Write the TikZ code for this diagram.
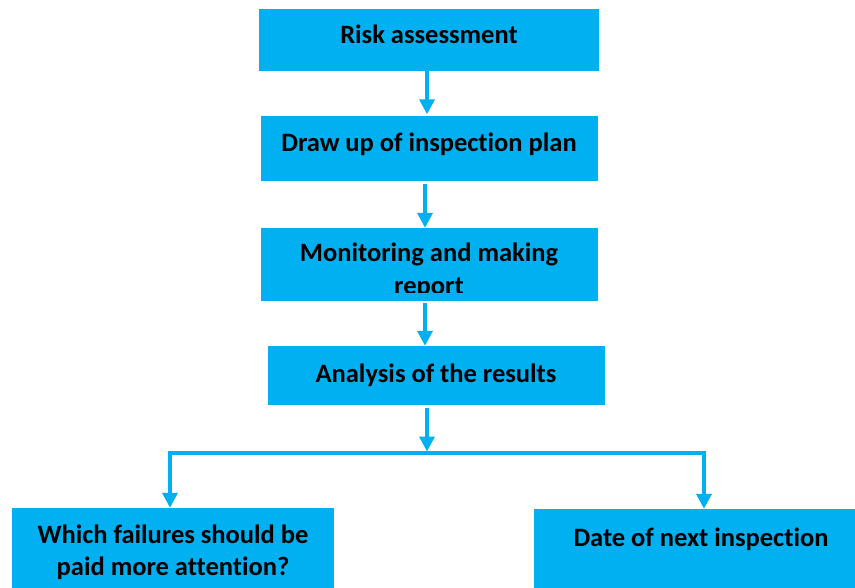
\documentclass[tikz,border=0pt]{standalone}
\usepackage{fontspec}
\setmainfont{Carlito}[Ligatures={NoCommon}]
\usetikzlibrary{arrows.meta}
\definecolor{flowblue}{HTML}{00B0F0}
\tikzset{
  box/.style={fill=flowblue, draw=none, inner sep=0pt, rectangle},
  txt/.style={inner sep=0pt, font=\fontsize{26.5}{32}\selectfont\bfseries, text=black},
  conn/.style={draw=flowblue, line width=3.5pt},
  arr/.style={conn, -{Triangle[length=15pt,width=15pt]}}
}
\begin{document}
\begin{tikzpicture}[x=1pt, y=-1pt]
\clip (0,0) rectangle (855,588);
\fill[white] (0,0) rectangle (855,588);

% process boxes
\node[box, minimum width=340pt, minimum height=62pt] (b1) at (429,40) {};
\node[box, minimum width=337pt, minimum height=65pt] (b2) at (429.5,148.5) {};
\node[box, minimum width=337pt, minimum height=73pt] (b3) at (429.5,264.5) {};
\node[box, minimum width=337pt, minimum height=59pt] (b4) at (436.5,375.5) {};
\node[box, minimum width=322pt, minimum height=92pt] (b5) at (173,554) {};
\node[box, minimum width=336pt, minimum height=91pt] (b6) at (702,554.5) {};

% labels
\node[txt, anchor=base] (t1) at (429,44) {Risk assessment};
\node[txt, anchor=base] (t2) at (429,152) {Draw up of inspection plan};
\begin{scope}
  % the text frame of this box ends a little above the box itself
  \clip ([yshift=9pt]b3.south west) rectangle (b3.north east);
  \node[txt, anchor=base] (t3a) at (429,262) {Monitoring and making};
  \node[txt, anchor=base] (t3b) at (429,294.5) {report};
\end{scope}
\node[txt, anchor=base] (t4) at (436,383) {Analysis of the results};
\node[txt, anchor=base] (t5a) at (173,543) {Which failures should be};
\node[txt, anchor=base] (t5b) at (173,575) {paid more attention?};
\node[txt, anchor=base] (t6) at (701,546) {Date of next inspection};

% vertical flow
\draw[arr, shorten >=1.5pt] ([xshift=-2pt]b1.south) -- ([xshift=-2pt]b1.south |- b2.north);
\draw[arr, shorten <=3pt] ([xshift=-4.5pt]b2.south) -- ([xshift=-4.5pt]b2.south |- b3.north);
\draw[arr, shorten <=2pt] ([xshift=-4.5pt]b3.south) -- ([xshift=-4.5pt]b3.south |- b4.north);

% branch to the two outcomes
\coordinate (j) at (427,453);
\coordinate (jl) at (170,453);
\coordinate (jr) at (704,453);
\draw[arr, shorten <=3pt, shorten >=1.5pt] ([xshift=-9.5pt]b4.south) -- (j);
\draw[conn] ([xshift=-1.75pt]jl) -- ([xshift=1.75pt]jr);
\draw[arr] (jl) -- (jl |- b5.north);
\draw[arr] (jr) -- (jr |- b6.north);
\end{tikzpicture}
\end{document}
